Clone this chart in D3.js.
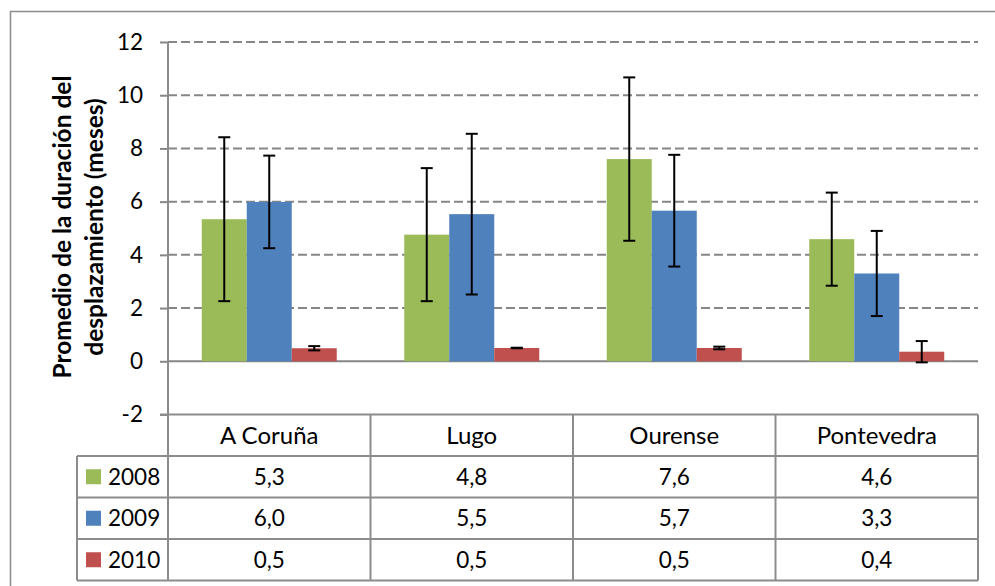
<!DOCTYPE html>
<html><head><meta charset="utf-8">
<script src="https://cdn.jsdelivr.net/npm/d3@7"></script>
<style>
html,body{margin:0;padding:0;background:#fff;}
svg{display:block;font-family:Lato, "Open Sans", sans-serif;}
</style></head>
<body>
<svg id="chart" width="995" height="586"></svg>
<script>
const categories = ["A Coruña", "Lugo", "Ourense", "Pontevedra"];
const series = ["2008", "2009", "2010"];
const values2008 = [5.34, 4.76, 7.60, 4.59];
const values2009 = [5.99, 5.53, 5.66, 3.30];
const values2010 = [0.49, 0.50, 0.50, 0.36];
const err2008 = [3.08, 2.50, 3.07, 1.75];
const err2009 = [1.74, 3.02, 2.10, 1.60];
const err2010 = [0.08, 0.01, 0.05, 0.40];
const colors = ["#9BBB59", "#4F81BD", "#C0504D"];
const yTicks = [-2, 0, 2, 4, 6, 8, 10, 12];
const yTitle = ["Promedio de la duración del", "desplazamiento (meses)"];

const values = [values2008, values2009, values2010];
const errs = [err2008, err2009, err2010];

const svg = d3.select("#chart");
const W = 995, H = 586;
const plotL = 168, plotR = 978, plotT = 42, plotB = 414.5;
const rowH = 41.5;
const legendL = 77;
const gridColor = "#868686";
const numSize = 22.5, wordSize = 24, titleSize = 24.5;
const locale = d3.formatLocale({decimal: ",", thousands: ".", grouping: [3], currency: ["", "€"]});
const fmt = locale.format(".1f");

// outer frame
svg.append("rect").attr("x", 10.5).attr("y", 11.5).attr("width", W + 20).attr("height", H + 20)
  .attr("fill", "#fff").attr("stroke", "#8c8c8c").attr("stroke-width", 1.5);

const x0 = d3.scaleBand().domain(categories).range([plotL, plotR]).padding(0);
const x1 = d3.scaleBand().domain(series).range([0, x0.bandwidth()]).paddingInner(0).paddingOuter(0.75);
const y = d3.scaleLinear().domain([-2, 12]).range([plotB, plotT]);

// gridlines
svg.append("g").selectAll("line").data(yTicks.filter(t => t > 0)).join("line")
  .attr("x1", plotL).attr("x2", plotR).attr("y1", d => y(d)).attr("y2", d => y(d))
  .attr("stroke", gridColor).attr("stroke-width", 2).attr("stroke-dasharray", "9,4");

// y axis
const yAxis = d3.axisLeft(y).tickValues(yTicks).tickSize(8).tickPadding(17).tickFormat(d => String(d));
const ga = svg.append("g").attr("transform", `translate(${plotL},0)`).call(yAxis);
ga.select(".domain").remove();
ga.selectAll(".tick line").attr("stroke", gridColor).attr("stroke-width", 2);
ga.selectAll(".tick text").attr("font-size", numSize).attr("fill", "#000").attr("font-family", "Lato");

// zero line
svg.append("line").attr("x1", plotL).attr("x2", plotR).attr("y1", y(0)).attr("y2", y(0))
  .attr("stroke", gridColor).attr("stroke-width", 2);

// bars
const groups = svg.append("g").selectAll("g").data(series).join("g")
  .attr("fill", (d, i) => colors[i]);
groups.selectAll("rect").data((s, si) => categories.map((c, ci) => ({c, s, v: values[si][ci], e: errs[si][ci]})))
  .join("rect")
  .attr("x", d => x0(d.c) + x1(d.s))
  .attr("width", x1.bandwidth())
  .attr("y", d => y(Math.max(0, d.v)))
  .attr("height", d => Math.abs(y(d.v) - y(0)));

// error bars
const eb = svg.append("g").attr("stroke", "#000").attr("stroke-width", 2);
series.forEach((s, si) => {
  categories.forEach((c, ci) => {
    const cx = x0(c) + x1(s) + x1.bandwidth() / 2;
    const v = values[si][ci], e = errs[si][ci];
    eb.append("line").attr("x1", cx).attr("x2", cx).attr("y1", y(v + e)).attr("y2", y(v - e));
    eb.append("line").attr("x1", cx - 6).attr("x2", cx + 6).attr("y1", y(v + e)).attr("y2", y(v + e));
    eb.append("line").attr("x1", cx - 6).attr("x2", cx + 6).attr("y1", y(v - e)).attr("y2", y(v - e));
  });
});

// data table
const tb = svg.append("g");
const lineColor = "#8c8c8c";
const rowY = i => plotB + i * rowH;
tb.append("line").attr("x1", plotL - 8).attr("x2", plotR).attr("y1", rowY(0)).attr("y2", rowY(0))
  .attr("stroke", lineColor).attr("stroke-width", 2);
for (let i = 1; i <= 4; i++) {
  tb.append("line").attr("x1", legendL).attr("x2", plotR).attr("y1", rowY(i)).attr("y2", rowY(i))
    .attr("stroke", lineColor).attr("stroke-width", 2);
}
tb.append("line").attr("x1", plotL).attr("x2", plotL).attr("y1", plotT).attr("y2", rowY(4))
  .attr("stroke", lineColor).attr("stroke-width", 2);
tb.append("line").attr("x1", legendL).attr("x2", legendL).attr("y1", rowY(1)).attr("y2", rowY(4))
  .attr("stroke", lineColor).attr("stroke-width", 2);
categories.forEach(c => {
  const xr = x0(c) + x0.bandwidth();
  tb.append("line").attr("x1", xr).attr("x2", xr).attr("y1", rowY(0)).attr("y2", rowY(4))
    .attr("stroke", lineColor).attr("stroke-width", 2);
});
tb.selectAll("text.cat").data(categories).join("text").attr("class", "cat")
  .attr("x", d => x0(d) + x0.bandwidth() / 2).attr("y", rowY(0) + rowH / 2 + 8.5)
  .attr("text-anchor", "middle").attr("font-size", wordSize).text(d => d);
series.forEach((s, si) => {
  const cy = rowY(si + 1) + rowH / 2;
  tb.append("rect").attr("x", 86).attr("y", cy - 7.5).attr("width", 15).attr("height", 15).attr("fill", colors[si]);
  tb.append("text").attr("x", 108).attr("y", cy + 8).attr("font-size", numSize).text(s);
  categories.forEach((c, ci) => {
    tb.append("text").attr("x", x0(c) + x0.bandwidth() / 2).attr("y", cy + 8)
      .attr("text-anchor", "middle").attr("font-size", numSize).text(fmt(values[si][ci]));
  });
});

// y title
const tg = svg.append("g").attr("transform", "translate(0,227)");
yTitle.forEach((t, i) => {
  tg.append("text").attr("transform", `translate(${71 + i * 32},0) rotate(-90)`)
    .attr("text-anchor", "middle").attr("font-size", titleSize).attr("font-weight", "bold").text(t);
});
</script>
</body></html>
